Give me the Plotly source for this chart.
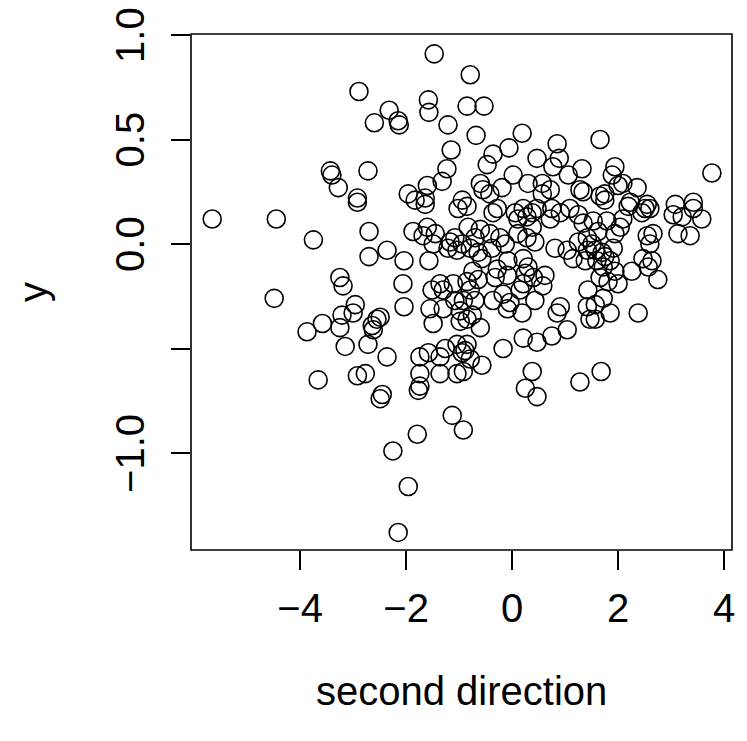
import plotly.graph_objects as go

# second direction (x) and y values
x_vals = [
    -1.47, -2.89, -2.32, -1.58, -1.57, -2.60, -2.15, -2.13, -1.21, -1.15,
    -1.23, -1.32, -1.60, -1.96, -1.64, -2.72, -3.43, -3.40, -3.28, -2.92,
    -0.94, -0.79, -0.85, -0.53, -0.68, 0.19, -0.06, -0.36, -0.47, 0.47,
    0.85, 0.89, 0.77, 1.06, 1.32, 1.66, 0.02, 0.30, -0.19, -0.60,
    -0.55, -0.42, 0.57, 0.72, 0.57, 1.28, 1.34, 1.66, 1.94, 1.89,
    2.09, 2.00, 2.36, 1.75, 3.77, 3.42, 3.08, 2.55, 2.23, -5.66,
    -4.45, -3.75, -4.49, -3.87, -3.58, -3.66, -2.92, -1.83, -1.64, -1.02,
    -2.70, -2.36, -2.70, -2.04, -1.87, -1.60, -1.45, -1.68, -1.49, -1.57,
    -1.17, -1.08, -1.21, -1.04, -0.94, -3.25, -3.19, -2.06, -1.51, -1.36,
    -1.11, -1.30, -1.55, -1.30, -1.08, -0.98, -1.49, -0.98, -2.04, -2.96,
    -3.00, -3.21, -3.25, -2.55, -2.49, -2.64, -2.62, -2.72, -3.15, -2.36,
    -2.92, -2.77, -1.74, -1.58, -1.36, -1.26, -1.04, -0.94, -1.74, -1.36,
    -0.85, -0.36, -0.28, 0.06, 0.21, 0.28, 0.11, 0.38, 0.47, 0.75,
    0.91, 1.09, 1.25, 1.34, 1.53, 0.72, -0.83, -0.60, -0.42, -0.70,
    -0.23, -0.13, -0.38, 0.11, 0.28, 0.43, 0.38, 0.81, 1.04, 1.15,
    1.25, 1.42, 1.51, 1.42, 1.57, 1.38, 1.60, -0.79, -0.64, -0.57,
    -0.08, 0.21, 0.30, -0.28, -0.09, -0.32, -0.74, -0.85, -0.64, 0.25,
    0.21, 0.40, 0.62, 0.58, 0.15, -0.17, -0.04, -0.36, -0.79, -0.70,
    -0.92, 0.43, 0.91, 0.85, 0.19, -0.09, -0.75, -0.85, -0.60, 1.43,
    1.42, 1.47, 1.04, 0.75, 0.47, 0.21, -0.17, -0.85, -0.89, -0.79,
    -0.57, 0.38, 1.68, 1.75, 2.19, 2.51, 2.60, 2.45, 3.04, 3.21,
    3.42, 3.58, 3.13, 3.36, 2.09, 2.04, 1.79, 1.94, 1.62, 2.55,
    2.66, 2.60, 1.91, 1.70, 2.47, 2.64, 2.57, 2.26, 2.75, 1.75,
    1.85, 1.72, 1.94, 2.00, 1.81, 1.66, 1.72, 1.57, 1.85, 2.38,
    1.57, -2.45, -2.49, -1.74, -1.77, -1.04, -0.92, -1.13, -0.92, -1.79,
    -2.25, -1.96, -2.15, 0.25, 0.47, 1.28,
]
y_vals = [
    0.91, 0.73, 0.64, 0.69, 0.63, 0.58, 0.59, 0.57, 0.57, 0.45,
    0.36, 0.30, 0.28, 0.24, 0.22, 0.35, 0.35, 0.33, 0.27, 0.22,
    0.21, 0.81, 0.66, 0.66, 0.52, 0.53, 0.46, 0.43, 0.38, 0.41,
    0.48, 0.41, 0.37, 0.33, 0.36, 0.50, 0.33, 0.29, 0.27, 0.29,
    0.26, 0.24, 0.29, 0.26, 0.24, 0.26, 0.25, 0.23, 0.37, 0.33,
    0.29, 0.28, 0.27, 0.24, 0.34, 0.20, 0.19, 0.19, 0.20, 0.12,
    0.12, 0.02, -0.26, -0.42, -0.38, -0.65, 0.20, 0.21, 0.19, 0.17,
    0.06, -0.03, -0.06, -0.08, 0.06, 0.08, 0.05, 0.04, 0.00, -0.08,
    0.01, 0.03, -0.02, -0.03, 0.00, -0.16, -0.20, -0.19, -0.22, -0.19,
    -0.19, -0.22, -0.31, -0.31, -0.27, -0.32, -0.38, -0.37, -0.30, -0.29,
    -0.33, -0.34, -0.40, -0.36, -0.35, -0.39, -0.41, -0.48, -0.49, -0.54,
    -0.63, -0.62, -0.54, -0.52, -0.54, -0.50, -0.48, -0.52, -0.62, -0.62,
    0.18, 0.15, 0.17, 0.15, 0.17, 0.13, 0.12, 0.15, 0.17, 0.17,
    0.15, 0.17, 0.14, 0.10, 0.11, 0.12, 0.08, 0.07, 0.05, 0.03,
    0.03, 0.00, -0.02, 0.05, 0.03, 0.01, 0.08, -0.02, -0.03, -0.07,
    0.01, 0.03, 0.00, -0.03, -0.03, -0.08, -0.08, -0.02, -0.04, -0.07,
    -0.08, -0.07, -0.11, -0.12, -0.15, -0.16, -0.13, -0.18, -0.17, -0.14,
    -0.19, -0.16, -0.15, -0.20, -0.22, -0.24, -0.28, -0.27, -0.22, -0.27,
    -0.27, -0.27, -0.30, -0.33, -0.33, -0.31, -0.34, -0.36, -0.40, -0.22,
    -0.30, -0.36, -0.41, -0.44, -0.47, -0.45, -0.50, -0.48, -0.51, -0.55,
    -0.58, -0.61, -0.61, 0.21, 0.18, 0.17, 0.17, 0.15, 0.14, 0.13,
    0.17, 0.12, 0.05, 0.04, 0.12, 0.08, 0.11, 0.05, 0.06, 0.04,
    0.05, 0.00, -0.02, -0.04, -0.07, -0.08, -0.11, -0.13, -0.17, -0.06,
    -0.08, -0.11, -0.13, -0.19, -0.18, -0.16, -0.26, -0.29, -0.33, -0.33,
    -0.36, -0.72, -0.74, -0.68, -0.70, -0.62, -0.61, -0.82, -0.89, -0.91,
    -0.99, -1.16, -1.38, -0.69, -0.73, -0.66,
]

x_ticks = [-4, -2, 0, 2, 4]
x_tick_labels = ["\u22124", "\u22122", "0", "2", "4"]
y_ticks = [-1.0, -0.5, 0.0, 0.5, 1.0]
y_tick_labels = ["\u22121.0", "", "0.0", "0.5", "1.0"]

FONT = "Liberation Sans, Arial, Helvetica, sans-serif"
FS = 40

fig = go.Figure(
    go.Scatter(
        x=x_vals, y=y_vals, mode="markers",
        marker=dict(symbol="circle-open", size=18, color="black",
                    line=dict(color="black", width=1.6)),
        hoverinfo="x+y",
    )
)

# y tick labels as rotated annotations (so the top one is not clipped)
y_label_annotations = [
    dict(text=t, xref="paper", yref="y", x=-0.113, y=v, textangle=-90,
         showarrow=False, xanchor="center", yanchor="middle",
         font=dict(family=FONT, size=FS, color="black"))
    for v, t in zip(y_ticks, y_tick_labels) if t
]

fig.update_layout(
    template="none",
    width=747, height=741, autosize=False,
    margin=dict(l=183, r=23, t=26, b=199, pad=0),
    paper_bgcolor="white", plot_bgcolor="white",
    showlegend=False,
    font=dict(family=FONT, size=FS, color="black"),
    xaxis=dict(
        range=[-6.06, 4.15], tickvals=x_ticks, ticktext=x_tick_labels,
        ticks="outside", ticklen=19, tickwidth=1.6, tickcolor="black",
        showgrid=False, zeroline=False, showline=False, automargin=False,
        tickfont=dict(family=FONT, size=FS, color="black"),
        ticklabelstandoff=4, ticklabeloverflow="allow",
    ),
    yaxis=dict(
        range=[-1.464, 1.005], tickvals=y_ticks, showticklabels=False,
        ticks="outside", ticklen=19, tickwidth=1.6, tickcolor="black",
        showgrid=False, zeroline=False, showline=False,
        automargin=False,
    ),
    shapes=[dict(type="rect", xref="paper", yref="paper", x0=0, x1=1, y0=0, y1=1,
                 line=dict(color="black", width=1.6), layer="above")],
    annotations=[
        dict(text="second direction", xref="paper", yref="paper", x=0.5, y=-0.273,
             showarrow=False, xanchor="center", yanchor="middle",
             font=dict(family=FONT, size=FS, color="black")),
        dict(text="y", xref="paper", yref="paper", x=-0.292, y=0.5, textangle=-90,
             showarrow=False, xanchor="center", yanchor="middle",
             font=dict(family=FONT, size=FS, color="black")),
    ] + y_label_annotations,
)

fig.write_html("out.html")
